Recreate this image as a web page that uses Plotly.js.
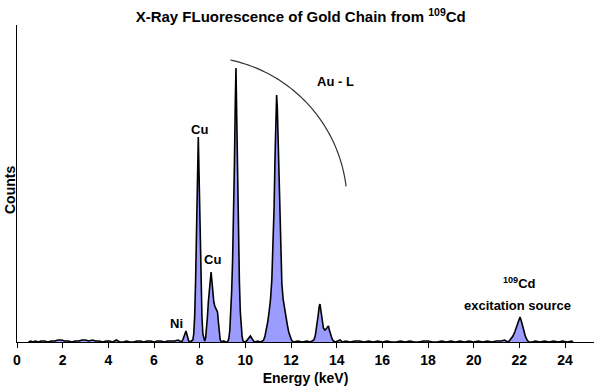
<!DOCTYPE html>
<html>
<head>
<meta charset="utf-8">
<script src="https://cdn.plot.ly/plotly-3.0.1.min.js"></script>
<style>html,body{margin:0;padding:0;background:#fff;}#chart{width:599px;height:390px;}</style>
</head>
<body>
<div id="chart"></div>
<script>
// Energy channels (keV) and counts
const energyKeV = [
  0.50,0.60,0.70,0.80,0.95,1.05,1.20,1.35,1.50,1.65,1.80,1.95,2.10,2.25,2.40,2.55,2.70,2.85,3.00,3.15,3.30,3.45,3.60,3.75,3.90,4.05,4.20,4.35,4.50,4.65,4.80,4.95,5.10,5.25,5.40,5.55,5.70,5.85,6.00,6.15,6.30,6.45,6.60,6.75,6.90,7.05,7.15,
  7.20,7.26,7.32,7.40,7.46,7.52,7.58,7.64,
  7.70,7.74,7.78,7.82,7.86,7.90,7.94,7.98,8.02,8.06,8.10,8.14,8.18,
  8.22,8.26,8.30,8.34,8.38,8.42,8.46,8.50,8.54,8.58,8.62,8.66,8.70,8.74,8.78,8.82,8.86,8.90,
  8.96,9.05,9.15,9.20,
  9.24,9.28,9.32,9.36,9.40,9.44,9.48,9.52,9.56,9.59,9.62,9.66,9.70,9.74,9.78,9.82,9.86,9.90,
  9.95,10.05,10.15,10.22,10.30,10.40,10.55,10.65,10.75,
  10.80,10.86,10.92,10.98,11.04,11.10,11.16,11.22,11.26,11.30,11.34,11.37,11.40,11.44,11.48,11.52,11.56,11.60,11.66,11.72,11.78,11.84,11.90,11.96,12.02,
  12.10,12.30,12.50,12.70,12.85,12.95,
  13.00,13.06,13.12,13.18,13.24,13.27,13.30,13.36,13.42,13.48,13.54,13.60,13.64,13.68,13.74,13.80,13.86,
  13.95,14.05,14.15,14.25,
  14.40,14.60,14.80,15.00,15.20,15.40,15.60,15.80,16.00,16.20,16.40,16.60,16.80,17.00,17.20,17.40,17.60,17.80,18.00,18.20,18.40,18.60,18.80,19.00,19.20,19.40,19.60,19.80,20.00,20.20,20.40,20.60,20.80,21.00,21.20,21.35,21.45,
  21.50,21.56,21.64,21.72,21.80,21.88,21.96,22.03,22.10,22.18,22.26,22.34,22.42,
  22.55,22.70,22.90,23.10,23.30,23.50,23.70,23.90,24.10,24.30,24.35
];
const counts = [
  0,1,0,1,0,1,1,0,1,1,2,2,1,1,0,1,1,2,2,1,2,1,1,0,1,1,0,2,0,0,1,0,0,1,1,0,1,1,0,1,1,0,1,1,1,2,1,
  0,2,6,11,6,1,0,1,
  2,8,25,60,110,165,205,160,105,55,25,8,2,
  1,4,12,25,40,52,63,70,60,48,40,36,34,33,30,20,8,2,
  0,1,0,0,
  1,4,12,28,50,80,120,175,240,274,230,165,105,60,30,14,5,1,
  0,1,4,6,3,0,1,0,1,
  2,6,12,20,30,42,62,95,135,185,230,247,235,195,150,110,80,58,42,32,24,17,10,5,2,
  0,1,0,1,0,1,
  2,6,14,25,36,38,33,22,14,12,13,15,16,12,7,3,1,
  0,1,2,0,
  1,0,1,1,0,1,0,1,0,1,0,0,1,0,1,0,0,1,1,0,0,1,0,1,0,1,0,1,0,1,0,1,0,1,1,2,1,
  0,1,3,6,10,15,22,25,20,12,6,2,0,
  0,1,0,1,0,1,0,1,0,1,0
];
const xTickVals = [0,2,4,6,8,10,12,14,16,18,20,22,24];
const xTickText = ["0","2","4","6","8","10","12","14","16","18","20","22","24"];
const peakLabels = ["Cu","Cu","Ni","Au - L","<sup>109</sup>Cd","excitation source"];
const peakLabelX = [7.98, 8.57, 6.99, 13.97, 22.02, 21.94];
const peakLabelY = [213, 83, 19, 261, 59, 37];

const FONT = "Liberation Sans, Arial, Helvetica, sans-serif";
const X_MAX = 25.27, Y_MAX = 317;

// Decorative arc around the Au-L group (circle in pixel space)
const arcCx = 8.0, arcCy = 137.7, arcRx = 6.46, arcRy = 147.5;
let arcPath = "";
for (let i = 0; i <= 60; i++) {
  const a = (78 - (71 * i) / 60) * Math.PI / 180;
  const px = arcCx + arcRx * Math.cos(a), py = arcCy + arcRy * Math.sin(a);
  arcPath += (i === 0 ? "M" : " L") + px.toFixed(4) + "," + py.toFixed(3);
}

const trace = {
  x: energyKeV, y: counts, type: "scatter", mode: "lines",
  line: {color: "#000000", width: 1.6, shape: "linear"},
  fill: "tozeroy", fillcolor: "#9c9cff", hoverinfo: "skip"
};

const annotations = peakLabels.map((t, i) => ({
  text: t, x: peakLabelX[i], y: peakLabelY[i], xref: "x", yref: "y",
  showarrow: false, xanchor: "center", yanchor: "middle",
  font: {family: FONT, size: 13, color: "#000", weight: "bold"}
}));
annotations.push({
  text: "Counts", xref: "paper", yref: "paper", x: -7/577, y: (342-190)/317,
  textangle: -90, showarrow: false, xanchor: "center", yanchor: "middle",
  font: {family: FONT, size: 14, color: "#000", weight: "bold"}
});

const layout = {
  width: 599, height: 390,
  margin: {l: 17, r: 5, t: 25, b: 48, pad: 0},
  paper_bgcolor: "#ffffff", plot_bgcolor: "#ffffff",
  showlegend: false,
  title: {
    text: "X-Ray FLuorescence of Gold Chain from <sup>109</sup>Cd",
    x: 0.502, xref: "container", xanchor: "center",
    y: 1 - 17/390, yref: "container", yanchor: "middle",
    font: {family: FONT, size: 15, color: "#000", weight: "bold"}
  },
  xaxis: {
    range: [0, X_MAX], tickmode: "array", tickvals: xTickVals, ticktext: xTickText,
    ticks: "outside", ticklen: 5, tickwidth: 1, tickcolor: "#000",
    showline: true, linecolor: "#000", linewidth: 1,
    showgrid: false, zeroline: false,
    tickfont: {family: FONT, size: 14, color: "#000", weight: "bold"},
    title: {text: "Energy (keV)", standoff: 6,
      font: {family: FONT, size: 14, color: "#000", weight: "bold"}}
  },
  yaxis: {
    range: [0, Y_MAX], showticklabels: false, ticks: "",
    showline: true, linecolor: "#000", linewidth: 1,
    showgrid: false, zeroline: false
  },
  shapes: [{type: "path", xref: "x", yref: "y", path: arcPath,
    line: {color: "#333333", width: 1.2}}],
  annotations: annotations
};

Plotly.newPlot("chart", [trace], layout, {displayModeBar: false, staticPlot: true});
</script>
</body>
</html>
